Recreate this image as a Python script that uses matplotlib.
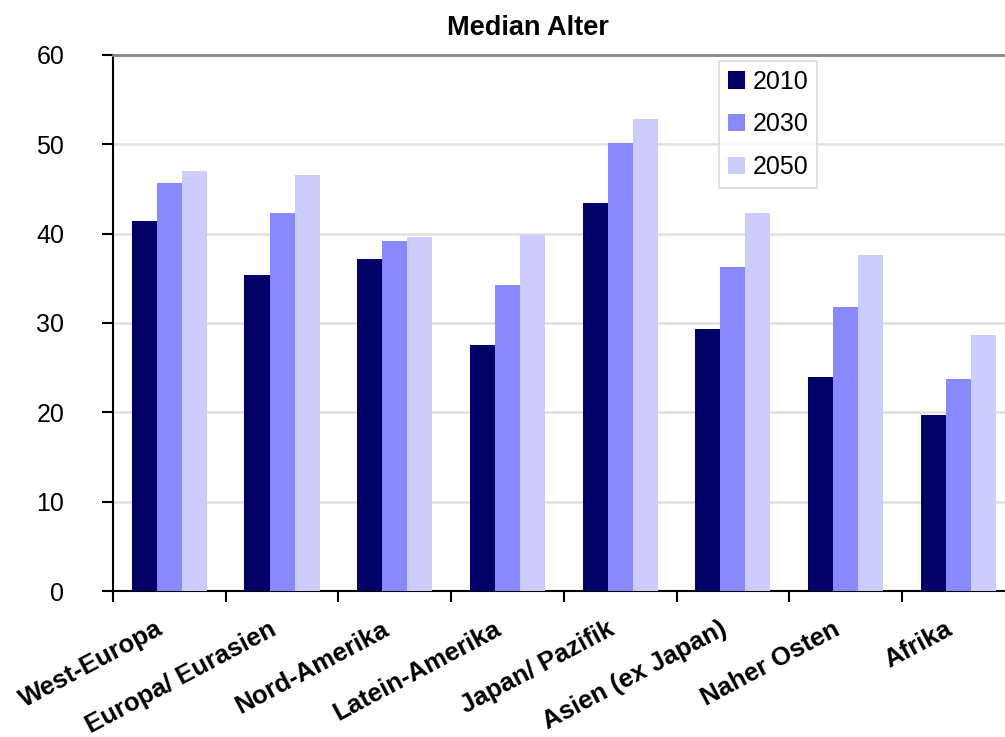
import numpy as np
import matplotlib
matplotlib.use("Agg")
import matplotlib.pyplot as plt

plt.rcParams['font.family'] = ['Liberation Sans', 'DejaVu Sans']

regions = ['West-Europa', 'Europa/ Eurasien', 'Nord-Amerika', 'Latein-Amerika',
           'Japan/ Pazifik', 'Asien (ex Japan)', 'Naher Osten', 'Afrika']
years = ['2010', '2030', '2050']
age_2010 = [41.4, 35.4, 37.2, 27.5, 43.4, 29.3, 24.0, 19.7]
age_2030 = [45.7, 42.3, 39.2, 34.2, 50.2, 36.3, 31.8, 23.7]
age_2050 = [47.0, 46.6, 39.6, 39.9, 52.8, 42.3, 37.6, 28.6]
colors = ['#000066', '#8888ff', '#ccccff']

fig = plt.figure(figsize=(10.05, 7.37), dpi=100)
ax = fig.add_axes([0.1124, 0.1981, 0.8972, 0.7273])

x = np.arange(len(regions))
w = 0.222
for i, (vals, c, lab) in enumerate(zip([age_2010, age_2030, age_2050], colors, years)):
    ax.bar(x + (i - 1) * w, vals, width=w, color=c, label=lab, zorder=3)

ax.set_xlim(-0.5, len(regions) - 0.5)
ax.set_ylim(0, 60)
ax.set_yticks(range(0, 61, 10))
ax.yaxis.grid(True, color='#e0e0e0', linewidth=1.8, zorder=0)
ax.set_axisbelow(True)

# category boundaries carry the ticks, labels sit at the centres
ax.set_xticks(np.arange(len(regions)) - 0.5)
ax.set_xticklabels([])
ax.tick_params(axis='x', length=8, width=1.5, direction='out')
ax.tick_params(axis='y', length=8, width=1.5, direction='out', labelsize=18, pad=27)
for xi, name in zip(x, regions):
    ax.text(xi - 0.12, -2.9, name, rotation=28, ha='right', va='top',
            rotation_mode='anchor', fontsize=18.5, fontweight='bold')

for s in ['left', 'bottom']:
    ax.spines[s].set_linewidth(1.5)
    ax.spines[s].set_color('black')
ax.spines['top'].set_color('#888888')
ax.spines['top'].set_linewidth(2)
ax.spines['right'].set_visible(False)

leg = ax.legend(loc='upper left', bbox_to_anchor=(0.672, 0.989), fontsize=18,
                frameon=True, fancybox=False, handlelength=0.7, handleheight=0.7,
                handletextpad=0.3, labelspacing=0.75, borderpad=0.35,
                borderaxespad=0)
leg.get_frame().set_edgecolor('#d8d8d8')
leg.get_frame().set_linewidth(1.5)

fig.text(0.5254, 0.962, 'Median Alter', ha='center', va='center',
         fontsize=19.5, fontweight='bold')

fig.savefig('out.png', dpi=100)
